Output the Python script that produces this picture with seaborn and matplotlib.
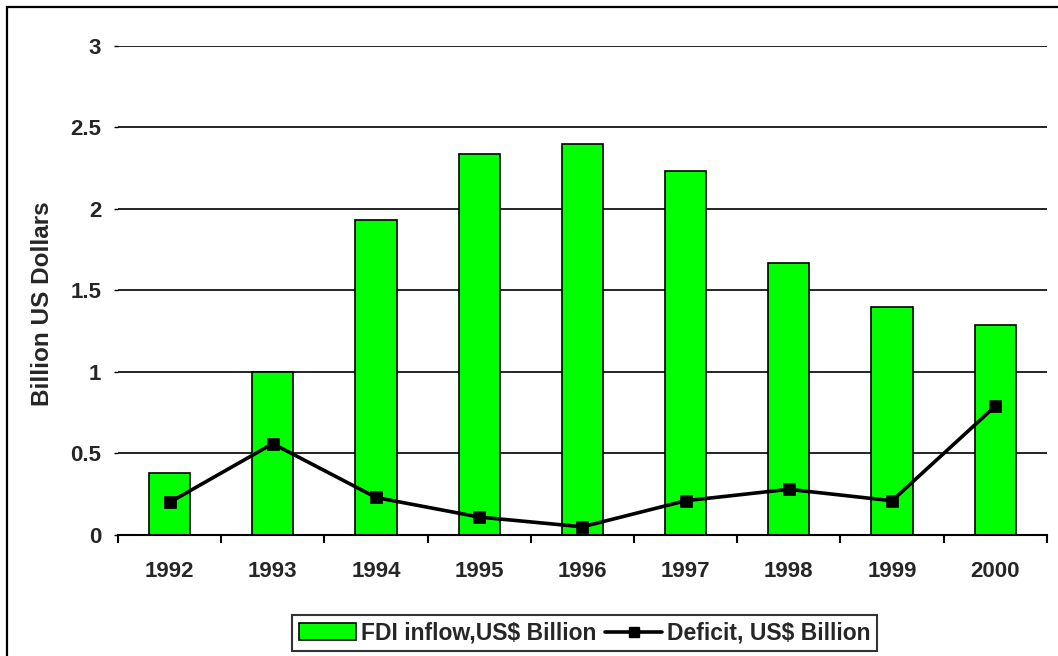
import numpy as np
import pandas as pd
import seaborn as sns
import matplotlib.pyplot as plt
from matplotlib.patches import Rectangle, Patch
from matplotlib.lines import Line2D

years = ['1992', '1993', '1994', '1995', '1996', '1997', '1998', '1999', '2000']
fdi_inflow = [0.38, 1.00, 1.93, 2.34, 2.40, 2.23, 1.67, 1.40, 1.29]
deficit = [0.20, 0.56, 0.23, 0.11, 0.05, 0.21, 0.28, 0.21, 0.79]

df = pd.DataFrame({'year': years, 'fdi': fdi_inflow, 'deficit': deficit})

sns.set_style('white')
plt.rcParams['font.family'] = ['Liberation Sans', 'DejaVu Sans']
plt.rcParams['font.weight'] = 'bold'

fig = plt.figure(figsize=(10.58, 6.56), dpi=100)
ax = fig.add_axes([0.1115, 0.1845, 0.878, 0.7454])

# bars
sns.barplot(data=df, x='year', y='fdi', color='#00ff00', saturation=1,
            width=0.4, edgecolor='black', linewidth=1.2, ax=ax, zorder=3)

# deficit line
sns.pointplot(data=df, x='year', y='deficit', color='black', markers='s',
              markersize=7, linewidth=2.6, errorbar=None, ax=ax)
for ln in ax.lines:
    ln.set_zorder(4)

ax.set_ylim(0, 3)
ax.set_xlim(-0.5, len(years) - 0.5)
ax.set_yticks([0, 0.5, 1, 1.5, 2, 2.5, 3])
ax.set_yticklabels(['0', '0.5', '1', '1.5', '2', '2.5', '3'])
ax.yaxis.grid(True, color='black', linewidth=1.2)
ax.set_axisbelow(True)

for side in ['top', 'right', 'left']:
    ax.spines[side].set_visible(False)
ax.spines['bottom'].set_color('black')
ax.spines['bottom'].set_linewidth(1.5)
ax.spines['bottom'].set_zorder(5)

# ticks between categories, labels centred
ax.set_xticks(np.arange(-0.5, len(years), 1), minor=True)
ax.tick_params(axis='x', which='minor', length=6, width=1.5, color='black', direction='out', bottom=True)
ax.tick_params(axis='x', which='major', length=0, pad=19, labelsize=16)
ax.tick_params(axis='y', length=3, width=1, color='black', pad=9, labelsize=16, left=True)

ax.set_xlabel('')
ax.set_ylabel('Billion US Dollars', fontsize=17.5, fontweight='bold')
ax.yaxis.set_label_coords(-0.069, 0.472)

handles = [Patch(facecolor='#00ff00', edgecolor='black', linewidth=1.2),
           Line2D([0], [0], color='black', linewidth=2.6, marker='s', markersize=7)]
leg = fig.legend(handles, ['FDI inflow,US$ Billion', 'Deficit, US$ Billion'],
                 loc='center', bbox_to_anchor=(0.5525, 0.035), ncol=2, fontsize=16.5,
                 frameon=True, fancybox=False, handlelength=2.5, handletextpad=0.2,
                 columnspacing=0.4, borderpad=0.3)
leg.get_frame().set_edgecolor('black')
leg.get_frame().set_linewidth(1.5)

# outer chart border (right and bottom edges fall outside the picture)
fig.patches.append(Rectangle((7 / 1058, -0.2), 1.3, 1 - 7 / 656 + 0.2,
                             transform=fig.transFigure, fill=False,
                             edgecolor='black', linewidth=1.6))

fig.savefig('out.png', dpi=100)
